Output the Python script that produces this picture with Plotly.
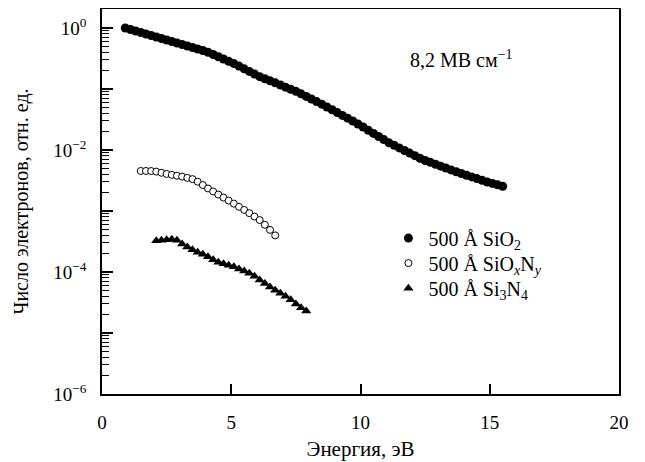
import plotly.graph_objects as go

# ---- data ----
sio2_x = [0.9, 1.1, 1.3, 1.5, 1.7, 1.9, 2.1, 2.3, 2.5, 2.7, 2.9, 3.1, 3.3, 3.5, 3.7, 3.9,
          4.1, 4.3, 4.5, 4.7, 4.9, 5.1, 5.3, 5.5, 5.7, 5.9, 6.1, 6.3, 6.5, 6.7, 6.9, 7.1,
          7.3, 7.5, 7.7, 7.9, 8.1, 8.3, 8.5, 8.7, 8.9, 9.1, 9.3, 9.5, 9.7, 9.9, 10.1, 10.3,
          10.5, 10.7, 10.9, 11.1, 11.3, 11.5, 11.7, 11.9, 12.1, 12.3, 12.5, 12.7, 12.9,
          13.1, 13.3, 13.5, 13.7, 13.9, 14.1, 14.3, 14.5, 14.7, 14.9, 15.1, 15.3, 15.5]
sio2_y = [1.00, 0.944, 0.893, 0.843, 0.798, 0.753, 0.711, 0.673, 0.635, 0.600, 0.568,
          0.536, 0.506, 0.478, 0.452, 0.427, 0.400, 0.367, 0.337, 0.310, 0.284, 0.261,
          0.237, 0.214, 0.194, 0.176, 0.159, 0.147, 0.136, 0.126, 0.116, 0.107, 0.0991,
          0.0914, 0.0832, 0.0755, 0.0684, 0.0621, 0.0564, 0.0507, 0.0456, 0.0410, 0.0369,
          0.0332, 0.0298, 0.0267, 0.0238, 0.0211, 0.0187, 0.0166, 0.0148, 0.0131, 0.0119,
          0.0108, 0.00980, 0.00889, 0.00807, 0.00733, 0.00673, 0.00627, 0.00583, 0.00543,
          0.00506, 0.00471, 0.00439, 0.00411, 0.00386, 0.00362, 0.00340, 0.00319, 0.00299,
          0.00283, 0.00268, 0.00254]

sion_x = [1.5, 1.7, 1.9, 2.1, 2.3, 2.5, 2.7, 2.9, 3.1, 3.3, 3.5, 3.7, 3.9, 4.1, 4.3, 4.5,
          4.7, 4.9, 5.1, 5.3, 5.5, 5.7, 5.9, 6.1, 6.3, 6.5, 6.7]
sion_y = [4.53e-3, 4.53e-3, 4.52e-3, 4.42e-3, 4.23e-3, 4.05e-3, 3.91e-3, 3.78e-3, 3.66e-3,
          3.49e-3, 3.33e-3, 3.02e-3, 2.66e-3, 2.34e-3, 2.09e-3, 1.86e-3, 1.66e-3, 1.48e-3,
          1.32e-3, 1.17e-3, 1.04e-3, 9.2e-4, 8.1e-4, 7.1e-4, 5.94e-4, 4.90e-4, 3.98e-4]

si3n4_x = [2.1, 2.3, 2.5, 2.7, 2.9, 3.1, 3.3, 3.5, 3.7, 3.9, 4.1, 4.3, 4.5, 4.7, 4.9, 5.1,
           5.3, 5.5, 5.7, 5.9, 6.1, 6.3, 6.5, 6.7, 6.9, 7.1, 7.3, 7.5, 7.7, 7.9]
si3n4_y = [3.24e-4, 3.31e-4, 3.39e-4, 3.43e-4, 3.31e-4, 2.88e-4, 2.57e-4, 2.32e-4, 2.11e-4,
           1.95e-4, 1.78e-4, 1.58e-4, 1.45e-4, 1.36e-4, 1.29e-4, 1.22e-4, 1.12e-4, 1.04e-4,
           9.5e-5, 8.5e-5, 7.4e-5, 6.5e-5, 5.7e-5, 5.0e-5, 4.5e-5, 4.0e-5, 3.5e-5, 3.0e-5,
           2.6e-5, 2.3e-5]

names = ["500 Å SiO<sub>2</sub>",
         "500 Å SiO<sub><i>x</i></sub>N<sub><i>y</i></sub>",
         "500 Å Si<sub>3</sub>N<sub>4</sub>"]

x_ticks = [0, 5, 10, 15, 20]
y_tick_vals = [1e-6, 1e-5, 1e-4, 1e-3, 1e-2, 1e-1, 1e0]
y_tick_text = ["10<sup>−6</sup>", "", "10<sup>−4</sup>", "", "10<sup>−2</sup>", "", "10<sup>0</sup>"]
y_minor = [k * 10.0 ** e for e in range(-6, 0) for k in range(2, 10)]

FONT = "Liberation Serif, Times New Roman, DejaVu Serif, serif"
FS = 19

fig = go.Figure()
fig.add_trace(go.Scatter(x=sio2_x, y=sio2_y, mode="markers", name=names[0], legend="legend",
                         marker=dict(symbol="circle", size=9, color="black",
                                     line=dict(width=0))))
fig.add_trace(go.Scatter(x=sion_x, y=sion_y, mode="markers", name=names[1], legend="legend2",
                         marker=dict(symbol="circle", size=7, color="white",
                                     line=dict(width=1, color="black"))))
fig.add_trace(go.Scatter(x=si3n4_x, y=si3n4_y, mode="markers", name=names[2], legend="legend3",
                         marker=dict(symbol="triangle-up", size=9, color="black",
                                     line=dict(width=0))))

fig.add_annotation(text="8,2 МВ см<sup>−1</sup>", xref="paper", yref="paper",
                   x=0.696, y=0.870, xanchor="center", yanchor="middle", showarrow=False,
                   font=dict(family=FONT, size=20, color="black"))

leg = dict(x=0.554, xanchor="left", yanchor="middle", bgcolor="rgba(0,0,0,0)",
           font=dict(family=FONT, size=20), itemwidth=30)

# page body has an 8px margin: compensate so the plot box lands at 102..619.5 x 9..394
fig.update_layout(
    width=645, height=462,
    margin=dict(l=94, r=33.5, t=1, b=76, autoexpand=False),
    paper_bgcolor="white", plot_bgcolor="white",
    font=dict(family=FONT, size=FS, color="black"),
    showlegend=True,
    legend=dict(leg, y=0.405),
    legend2=dict(leg, y=0.340),
    legend3=dict(leg, y=0.275),
)
fig.update_xaxes(range=[0, 20], tickvals=x_ticks, ticktext=[str(v) for v in x_ticks],
                 ticks="inside", ticklen=10, tickwidth=1.5, tickcolor="black",
                 tickfont=dict(family=FONT, size=FS),
                 showline=True, linecolor="black", linewidth=1.5, mirror=True,
                 showgrid=False, zeroline=False, ticklabelstandoff=10, automargin=False,
                 title=dict(text="Энергия, эВ", font=dict(family=FONT, size=21), standoff=10))
fig.update_yaxes(type="log", range=[-6, 0.311], tickmode="array",
                 tickvals=y_tick_vals, ticktext=y_tick_text,
                 tickfont=dict(family=FONT, size=FS),
                 ticks="inside", ticklen=11, tickwidth=1.5, tickcolor="black",
                 minor=dict(tickmode="array", tickvals=y_minor, ticks="inside",
                            ticklen=7, tickwidth=1, tickcolor="black", showgrid=False),
                 showline=True, linecolor="black", linewidth=1.5, mirror=True,
                 showgrid=False, zeroline=False, ticklabelstandoff=10, automargin=False,
                 title=dict(text="Число электронов, отн. ед.", font=dict(family=FONT, size=20),
                            standoff=19))

fig.write_html("out.html")
